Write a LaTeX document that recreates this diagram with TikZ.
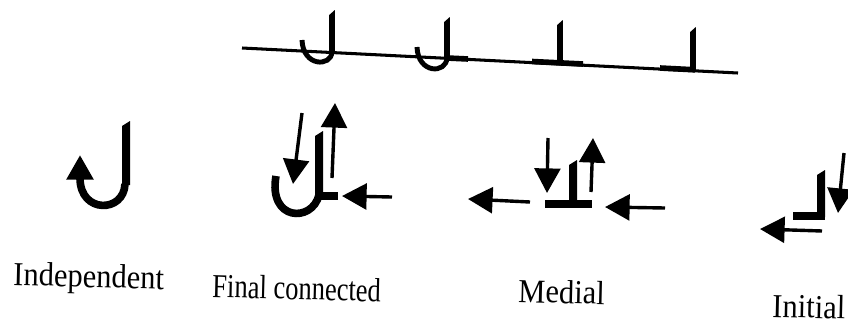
\documentclass[tikz,border=0pt]{standalone}
\usepackage{fontspec}
\setmainfont{Liberation Serif}
\usetikzlibrary{arrows.meta}

\newcommand{\lamstem}[4]{\fill (#1-#4,#2+5) -- (#1+#4,#2) -- (#1+#4,#3) -- (#1-#4,#3) -- cycle;}

\begin{document}
\begin{tikzpicture}[x=0.03cm, y=-0.03cm,
  flow/.style={-{Triangle[length=21pt,width=22pt]}, line width=2.9pt},
  bowl/.style={line width=6.5pt},
  thinbowl/.style={line width=4.2pt},
  bar/.style={line width=7pt},
  caption/.style={font=\fontsize{26}{30}\selectfont, inner sep=0pt, anchor=base west, yscale=1.1, rotate=-1.5}]
\useasboundingbox (0,0) rectangle (848,331);

\draw[line width=2.6pt] (242,48) -- (738,73);
\lamstem{332}{10}{53}{2.8}
\draw[thinbowl] (332,52) .. controls (331,67) and (303,67) .. (302,40);
\lamstem{447}{17}{59}{2.8}
\draw[thinbowl] (447,58) .. controls (446,74) and (418,74) .. (417,47);
\draw[line width=4.8pt] (447,58) -- (468,59);
\lamstem{560}{20}{63}{2.8}
\draw[line width=4.8pt] (532,61.5) -- (583,64);
\lamstem{693}{27}{70}{2.8}
\draw[line width=4.8pt] (660,68) -- (695,69.8);

\lamstem{126}{121}{185}{4}
\draw[bowl, -{Triangle[length=21pt,width=22pt]}] (125,184) .. controls (124,213) and (80,214) .. (80,155);

\lamstem{319}{131}{198}{4}
\draw[bar] (316,196) -- (338,196);
\draw[bowl] (276,176) .. controls (268,221) and (312,223) .. (319,195);
\draw[flow] (302,113) -- (293,184);
\draw[flow] (332,178) -- (335,103);
\draw[flow] (392,197) -- (342,196);

\lamstem{573}{160}{204}{4}
\draw[bar] (545,204) -- (592,204);
\draw[flow] (530,202) -- (468,199);
\draw[flow] (548,138) -- (547,193);
\draw[flow] (591,192) -- (593,138);
\draw[flow] (665,208) -- (605,207);

\lamstem{821}{170}{217}{4}
\draw[bar] (793,216) -- (825,216);
\draw[flow] (844,153) -- (838,213);
\draw[flow] (822,231) -- (760,229);

\node[caption] (indep) at (13,285) {Independent};
\node[caption, xscale=0.87] (final) at (212,297) {Final connected};
\node[caption] (medial) at (518,302) {Medial};
\node[caption] (initial) at (772,317) {Initial};
\end{tikzpicture}
\end{document}
